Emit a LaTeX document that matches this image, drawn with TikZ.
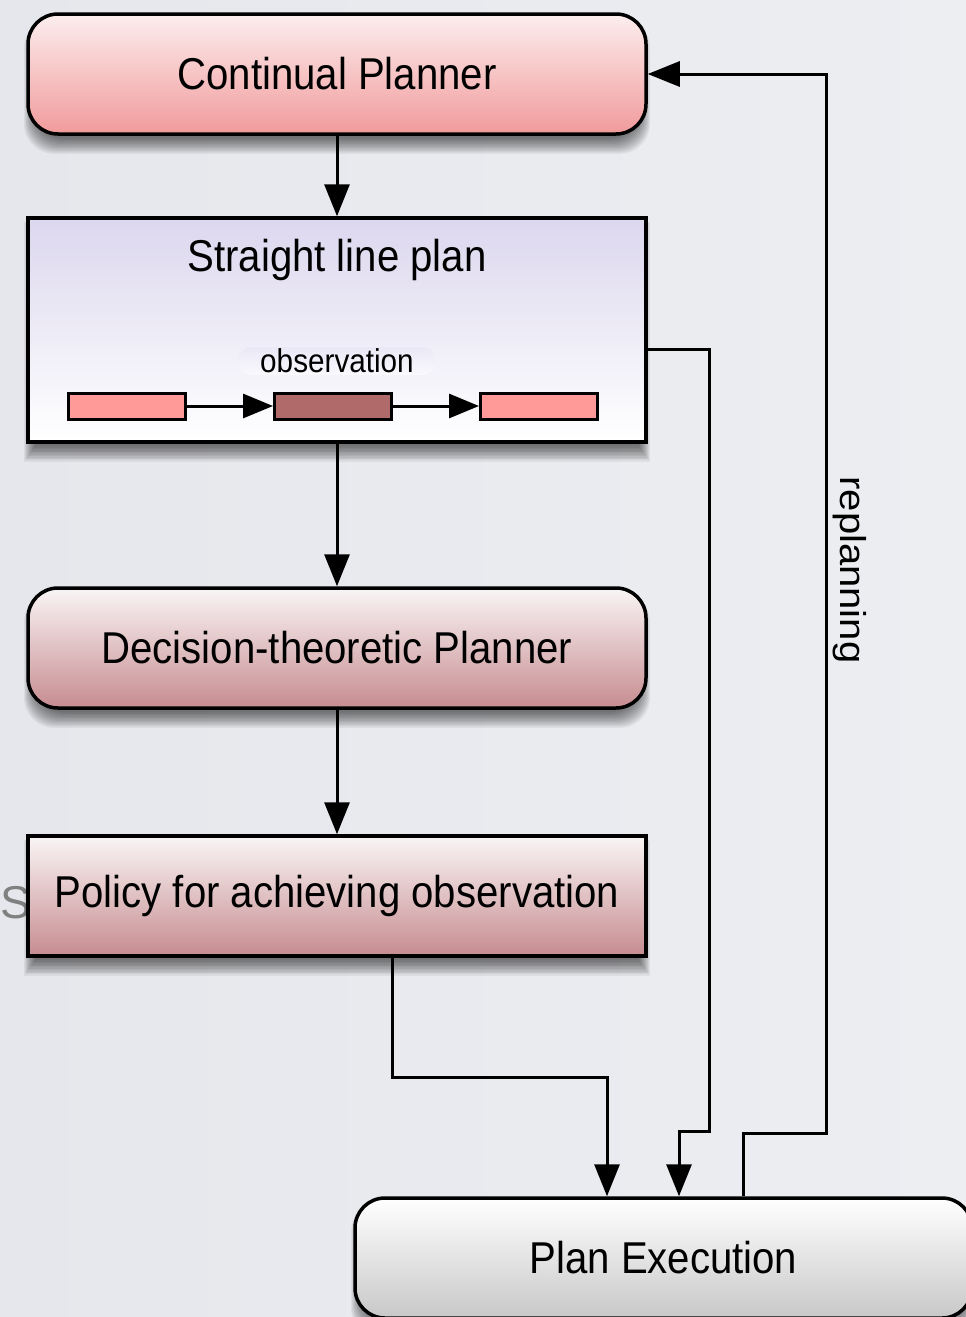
\documentclass[tikz,border=0pt]{standalone}
\usepackage{fontspec}
\setmainfont{Liberation Sans}[FakeStretch=0.9]
\newfontfamily\plainsans{Liberation Sans}
\usetikzlibrary{arrows.meta}
\definecolor{bgL}{RGB}{229,231,236}
\definecolor{bgR}{RGB}{236,238,242}
\definecolor{cpTop}{RGB}{252,238,238}
\definecolor{cpBot}{RGB}{241,154,155}
\definecolor{slpTop}{RGB}{220,215,238}
\definecolor{dtTop}{RGB}{250,245,245}
\definecolor{dtBot}{RGB}{198,140,144}
\definecolor{peBot}{RGB}{200,200,200}
\definecolor{stepLight}{RGB}{255,154,152}
\definecolor{stepDark}{RGB}{176,106,106}
\definecolor{pillTop}{RGB}{234,232,246}
\definecolor{pillBot}{RGB}{250,249,253}
\newcommand{\softshadow}[5]{%
  \foreach \i in {1,...,12} {%
    \fill[black, opacity=0.055, rounded corners=#5]
      ({#1+8-\i},{#2+16-\i}) rectangle ({#3-8+\i},{#4+3+1.4*\i});
  }%
}
\begin{document}
\begin{tikzpicture}[x=1pt,y=-1pt,
  conn/.style={line width=3pt, draw=black, line join=miter},
  arr/.style={conn, -{Triangle[width=25pt,length=32pt]}},
  smallarr/.style={conn, -{Triangle[width=24pt,length=30pt]}},
  bigbox/.style={draw=black, line width=3.5pt, minimum width=618pt, minimum height=120pt,
    inner sep=0pt, font=\fontsize{44.6}{50}\selectfont},
  roundbox/.style={bigbox, rounded corners=30pt},
  stepbox/.style={draw=black, line width=3pt, minimum width=117pt, minimum height=26pt, inner sep=0pt}
]
\clip (0,0) rectangle (966,1317);
\useasboundingbox (0,0) rectangle (966,1317);
\shade[left color=bgL, right color=bgR] (0,0) rectangle (966,1317);

% ghost letter behind the policy box
\node[anchor=base west, inner sep=0pt, text=black!50, font=\plainsans\fontsize{46}{50}\selectfont] (ghost) at (0,918) {S};

% shadows
\softshadow{28}{14}{646}{134}{30pt}
\softshadow{28}{218}{646}{442}{0pt}
\softshadow{28}{588}{646}{708}{30pt}
\softshadow{28}{836}{646}{956}{0pt}
\softshadow{355}{1198}{972}{1318}{30pt}

% boxes
\node[roundbox, top color=cpTop, bottom color=cpBot] (cp) at (337,74) {Continual Planner};
\node[bigbox, minimum height=224pt, top color=slpTop, bottom color=white] (slp) at (337,330) {};
\node[inner sep=0pt, font=\fontsize{44.6}{50}\selectfont] (slptitle) at (337,260) {Straight line plan};
\node[rounded corners=14pt, minimum width=198pt, minimum height=28pt, inner sep=0pt,
  top color=pillTop, bottom color=pillBot, font=\fontsize{33}{36}\selectfont] (obs) at (337,361) {observation};
\node[stepbox, fill=stepLight] (s1) at (126.5,406) {};
\node[stepbox, fill=stepDark] (s2) at (333,406) {};
\node[stepbox, fill=stepLight] (s3) at (539,406) {};
\node[roundbox, top color=dtTop, bottom color=dtBot] (dtp) at (337,648) {Decision-theoretic Planner};
\node[bigbox, top color=dtTop, bottom color=dtBot] (pol) at (337,896) {Policy for achieving observation};
\node[roundbox, minimum width=617pt, top color=white, bottom color=peBot] (pe) at (663.5,1258) {Plan Execution};

% connectors
\draw[smallarr] (s1.east) -- (s2.west);
\draw[smallarr] (s2.east) -- (s3.west);
\draw[arr] (cp.south) -- (slp.north);
\draw[arr] (slp.south) -- (dtp.north);
\draw[arr] (dtp.south) -- (pol.north);

\coordinate (j1) at (392,1077);
\coordinate (j2) at (607,1077);
\draw[arr] (j1 |- pol.south) -- (j1) -- (j2) -- (j2 |- pe.north);

\coordinate (k1) at (709,349);
\coordinate (k2) at (709,1131);
\coordinate (k3) at (679,1131);
\draw[arr] (slp.east |- k1) -- (k1) -- (k2) -- (k3) -- (k3 |- pe.north);

\coordinate (m1) at (743,1133);
\coordinate (m2) at (826,1133);
\coordinate (m3) at (826,74);
\draw[arr] (m1 |- pe.north) -- (m1) -- (m2) -- (m3) -- (cp.east);
\node[rotate=-90, inner sep=0pt, font=\plainsans\fontsize{40}{44}\selectfont] (replan) at (850,570) {\scalebox{1}[0.9]{replanning}};
\end{tikzpicture}
\end{document}
